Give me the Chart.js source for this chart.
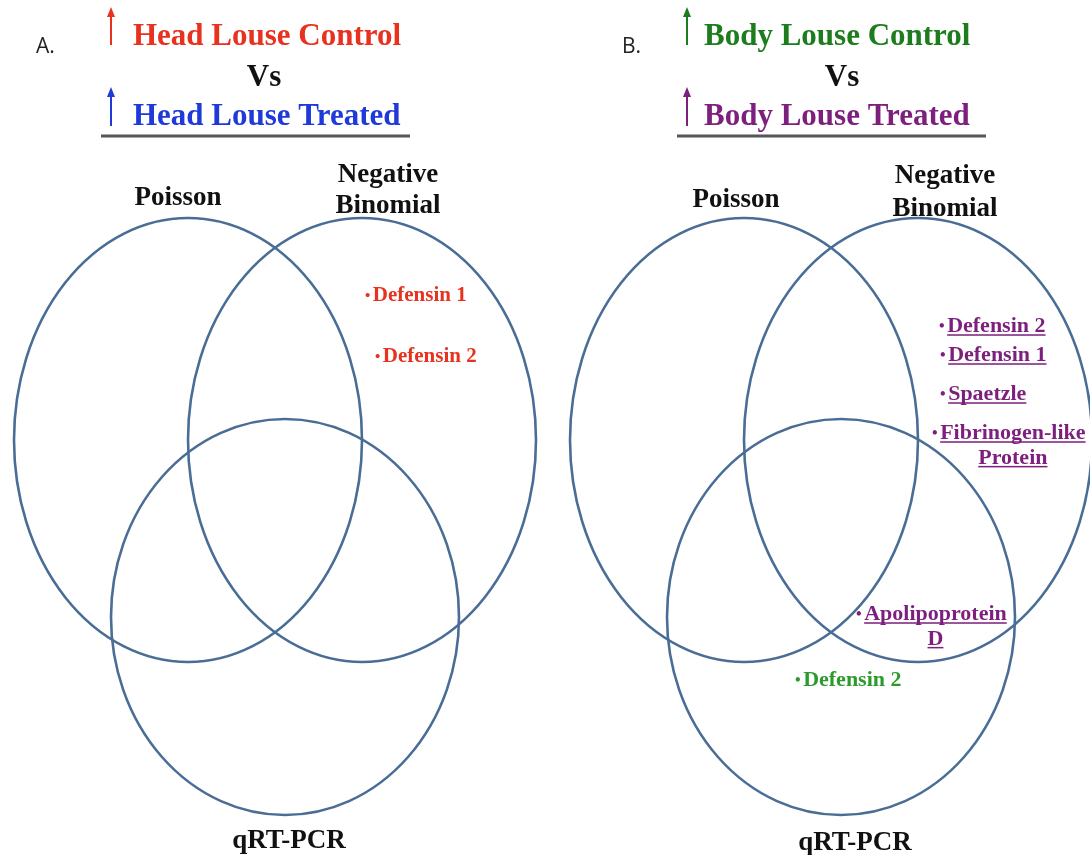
<!DOCTYPE html>
<html>
<head>
<meta charset="utf-8">
<title>Venn - louse immune genes</title>
<script src="https://cdn.jsdelivr.net/npm/chart.js@4.4.1/dist/chart.umd.min.js"></script>
<style>
  html, body { margin: 0; padding: 0; background: #fff; }
  #wrap { width: 1090px; height: 855px; }
</style>
</head>
<body>
<div id="wrap"><canvas id="venn" width="1090" height="855"></canvas></div>
<script>
// --- data ---
const panelLetters = ["A.", "B."];
const methods = ["Poisson", "Negative Binomial", "qRT-PCR"];
const headComparison = ["Head Louse Control", "Vs", "Head Louse Treated"];
const bodyComparison = ["Body Louse Control", "Vs", "Body Louse Treated"];

// up-regulated genes, per region of each diagram
const headNegBinOnly = ["Defensin 1", "Defensin 2"];
const bodyNegBinOnly = ["Defensin 2", "Defensin 1", "Spaetzle", "Fibrinogen-like Protein"];
const bodyNegBinQpcr = ["Apolipoprotein D"];
const bodyQpcrOnly = ["Defensin 2"];

// --- layout (axis units, same as figure pixels) ---
const panelShift = [0, 556];
const ellipseX = [188, 362, 285];
const ellipseY = [440, 440, 617];
const ellipseRx = [174, 174, 174];
const ellipseRy = [222, 222, 198];

const SERIF = '"Liberation Serif", "Times New Roman", serif';
const colors = {
  ring: "#4a6d96",
  headUp: "#e8311f",
  headDown: "#1f3ad8",
  bodyUp: "#1d7c1d",
  bodyDown: "#7d1f7d",
  qpcrGreen: "#2e9a2e"
};

const xy = (chart, x, y) => [chart.scales.x.getPixelForValue(x), chart.scales.y.getPixelForValue(y)];

function upArrow(ctx, x, yTop, yBottom, color) {
  ctx.save();
  ctx.strokeStyle = color; ctx.fillStyle = color; ctx.lineWidth = 2;
  ctx.beginPath(); ctx.moveTo(x, yBottom); ctx.lineTo(x, yTop + 8); ctx.stroke();
  ctx.beginPath(); ctx.moveTo(x, yTop); ctx.lineTo(x - 4, yTop + 10); ctx.lineTo(x + 4, yTop + 10); ctx.closePath(); ctx.fill();
  ctx.restore();
}

function geneLabel(ctx, name, x, y, size, color, underline, wrap) {
  ctx.save();
  ctx.fillStyle = color;
  ctx.textAlign = "left"; ctx.textBaseline = "alphabetic";
  let lines = [name];
  if (wrap) {
    const i = name.lastIndexOf(" ");
    lines = [name.slice(0, i), name.slice(i + 1)];
  }
  const base = y + size * 0.33;
  // small bullet, then the name
  ctx.font = `bold ${Math.round(size * 0.72)}px ${SERIF}`;
  ctx.fillText("\u2022", x, base - 1);
  const bw = size * 0.37;
  ctx.font = `bold ${size}px ${SERIF}`;
  ctx.fillText(lines[0], x + bw, base);
  const w0 = ctx.measureText(lines[0]).width;
  if (underline) ctx.fillRect(x + bw, base + 2, w0, 1.5);
  if (lines[1]) {
    const mid = x + bw + w0 / 2;
    const b2 = base + size * 1.12;
    const w1 = ctx.measureText(lines[1]).width;
    ctx.fillText(lines[1], mid - w1 / 2, b2);
    if (underline) ctx.fillRect(mid - w1 / 2, b2 + 2, w1, 1.5);
  }
  ctx.restore();
}

function centerText(ctx, str, x, base, font, color) {
  ctx.save();
  ctx.font = font; ctx.fillStyle = color;
  ctx.textAlign = "center"; ctx.textBaseline = "alphabetic";
  ctx.fillText(str, x, base);
  ctx.restore();
}

function leftText(ctx, str, x, base, font, color) {
  ctx.save();
  ctx.font = font; ctx.fillStyle = color;
  ctx.textAlign = "left"; ctx.textBaseline = "alphabetic";
  ctx.fillText(str, x, base);
  ctx.restore();
}

// one scatter dataset per ring; the point is the ring centre
const datasets = [];
panelShift.forEach((dx, p) => {
  methods.forEach((m, i) => {
    datasets.push({
      label: panelLetters[p] + " " + m,
      data: [{ x: ellipseX[i] + dx, y: ellipseY[i] }],
      rx: ellipseRx[i],
      ry: ellipseRy[i],
      pointRadius: 0,
      borderColor: colors.ring
    });
  });
});

const vennPlugin = {
  id: "venn",
  afterDatasetsDraw(chart) {
    const ctx = chart.ctx;
    const xs = chart.scales.x, ys = chart.scales.y;

    // rings
    chart.data.datasets.forEach((ds, i) => {
      const pt = chart.getDatasetMeta(i).data[0];
      const rx = Math.abs(xs.getPixelForValue(ds.data[0].x + ds.rx) - pt.x);
      const ry = Math.abs(ys.getPixelForValue(ds.data[0].y + ds.ry) - pt.y);
      ctx.save();
      ctx.strokeStyle = ds.borderColor; ctx.lineWidth = 2.6;
      ctx.beginPath(); ctx.ellipse(pt.x, pt.y, rx, ry, 0, 0, Math.PI * 2); ctx.stroke();
      ctx.restore();
    });

    const big = `bold 31px ${SERIF}`;
    const setFont = `bold 27px ${SERIF}`;

    // headers
    const heads = [
      { letterX: 36, arrowX: 111, textX: 133, vsX: 264, lineX: [101, 410], titles: headComparison, up: colors.headUp, down: colors.headDown },
      { letterX: 622, arrowX: 687, textX: 704, vsX: 842, lineX: [677, 986], titles: bodyComparison, up: colors.bodyUp, down: colors.bodyDown }
    ];
    heads.forEach((h, p) => {
      let [lx, ly] = xy(chart, h.letterX, 53);
      leftText(ctx, panelLetters[p], lx, ly, '21px "Open Sans", "Liberation Sans", sans-serif', "#222");
      let [ax, a1] = xy(chart, h.arrowX, 7);
      let [, a2] = xy(chart, h.arrowX, 45);
      upArrow(ctx, ax, a1, a2, h.up);
      [, a1] = xy(chart, h.arrowX, 87);
      [, a2] = xy(chart, h.arrowX, 126);
      upArrow(ctx, ax, a1, a2, h.down);
      let [tx, ty] = xy(chart, h.textX, 45);
      leftText(ctx, h.titles[0], tx, ty, big, h.up);
      let [vx, vy] = xy(chart, h.vsX, 86);
      centerText(ctx, h.titles[1], vx, vy, big, "#111");
      [tx, ty] = xy(chart, h.textX, 125);
      leftText(ctx, h.titles[2], tx, ty, big, h.down);
      const [u1, uy] = xy(chart, h.lineX[0], 136);
      const [u2] = xy(chart, h.lineX[1], 136);
      ctx.save(); ctx.fillStyle = "#555"; ctx.fillRect(u1, uy - 1.5, u2 - u1, 3); ctx.restore();
    });

    // ring names
    const nameSpots = [
      { poisson: [178, 205], negBin: [388, 182, 213], qpcr: [289, 848] },
      { poisson: [736, 207], negBin: [945, 183, 216], qpcr: [855, 850] }
    ];
    nameSpots.forEach(s => {
      let [x, y] = xy(chart, s.poisson[0], s.poisson[1]);
      centerText(ctx, methods[0], x, y, setFont, "#111");
      const words = methods[1].split(" ");
      [x, y] = xy(chart, s.negBin[0], s.negBin[1]);
      centerText(ctx, words[0], x, y, setFont, "#111");
      [x, y] = xy(chart, s.negBin[0], s.negBin[2]);
      centerText(ctx, words[1], x, y, setFont, "#111");
      [x, y] = xy(chart, s.qpcr[0], s.qpcr[1]);
      centerText(ctx, methods[2], x, y, setFont, "#111");
    });

    // gene lists
    const headSpots = [[365, 294], [375, 355]];
    headNegBinOnly.forEach((g, i) => {
      const [x, y] = xy(chart, headSpots[i][0], headSpots[i][1]);
      geneLabel(ctx, g, x, y, 21, colors.headUp, false, false);
    });
    const bodySpots = [[939, 325], [940, 354], [940, 393], [932, 432]];
    bodyNegBinOnly.forEach((g, i) => {
      const [x, y] = xy(chart, bodySpots[i][0], bodySpots[i][1]);
      geneLabel(ctx, g, x, y, 22, colors.bodyDown, true, g.includes("-"));
    });
    bodyNegBinQpcr.forEach(g => {
      const [x, y] = xy(chart, 856, 613);
      geneLabel(ctx, g, x, y, 22, colors.bodyDown, true, true);
    });
    bodyQpcrOnly.forEach(g => {
      const [x, y] = xy(chart, 795, 679);
      geneLabel(ctx, g, x, y, 22, colors.qpcrGreen, false, false);
    });
  }
};

new Chart(document.getElementById("venn"), {
  type: "scatter",
  data: { datasets },
  options: {
    responsive: false,
    animation: false,
    layout: { padding: 0 },
    scales: {
      x: { type: "linear", min: 0, max: 1090, display: false },
      y: { type: "linear", min: 0, max: 855, reverse: true, display: false }
    },
    plugins: { legend: { display: false }, tooltip: { enabled: false } }
  },
  plugins: [vennPlugin]
});
</script>
</body>
</html>
